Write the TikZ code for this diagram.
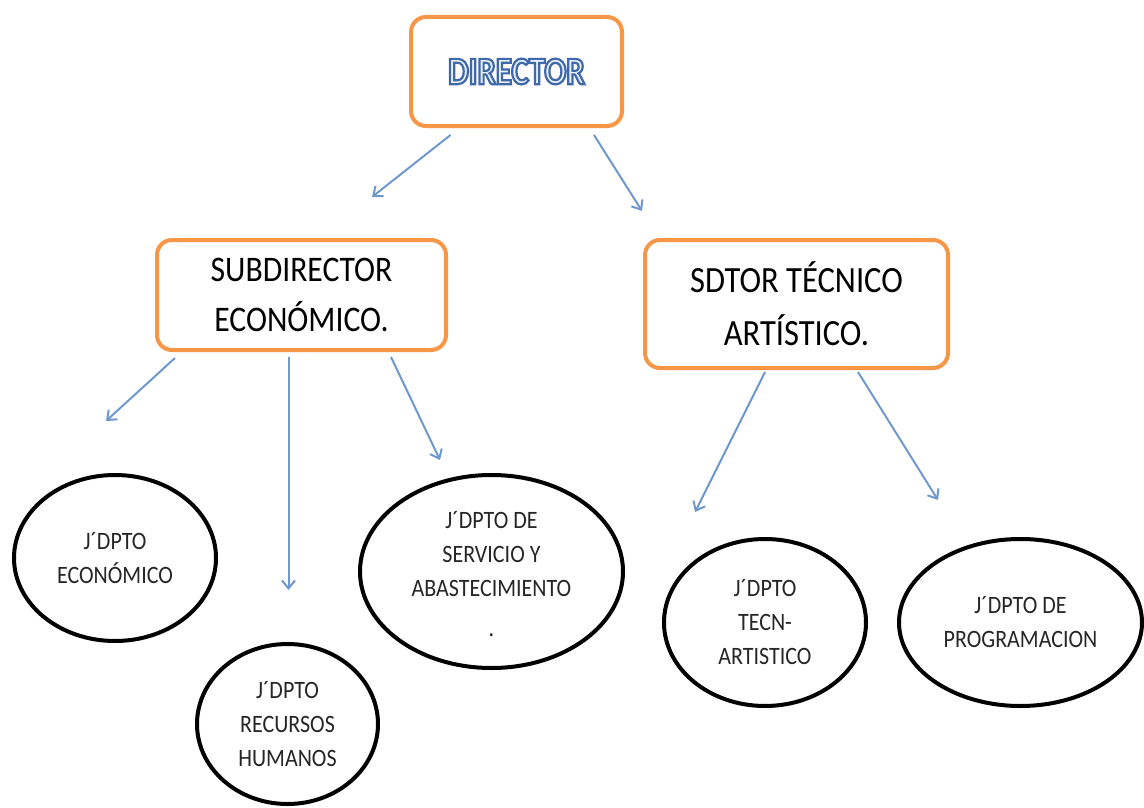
\documentclass[tikz,border=0pt]{standalone}
\usepackage{fontspec}
\setmainfont{Carlito}
\newfontfamily\boxfont[FakeStretch=0.88]{Carlito}
\newfontfamily\elfont[FakeStretch=0.88]{Carlito}
\newfontfamily\dirfont[FakeStretch=0.84]{Carlito Bold}
\usetikzlibrary{shapes.geometric,arrows.meta,calc}
\definecolor{orgline}{HTML}{F79646}
\definecolor{arrblue}{HTML}{6F98CF}
\definecolor{dblue}{HTML}{3F69AA}
\newcommand{\outlinetext}[1]{\textcolor{dblue}{\special{pdf:literal 2 Tr 2.2 w 0.91 0.94 0.98 rg}#1\special{pdf:literal 0 Tr}}}
\begin{document}
\begin{tikzpicture}[x=1pt,y=-1pt,
  orgbox/.style={draw=orgline,line width=4pt,rounded corners=15pt,fill=white,
    inner sep=0pt,align=center},
  dept/.style={draw=black,line width=4pt,ellipse,inner sep=0pt},
  conn/.style={draw=arrblue,line width=2pt,-{Straight Barb[length=8pt,width=13pt]}},
  eltext/.style={align=center,font=\elfont\fontsize{25}{34}\selectfont,text=black!85}
]
\useasboundingbox (0,0) rectangle (1144,808);
\fill[white] (0,0) rectangle (1144,808);

% boxes
\node[orgbox,minimum width=211pt,minimum height=109pt] (dir) at (516.5,71.5)
  {\dirfont\fontsize{39}{40}\selectfont\outlinetext{DIRECTOR}};
\node[orgbox,minimum width=289pt,minimum height=110pt,
  font=\boxfont\fontsize{36}{50}\selectfont] (sub) at (301.5,295)
  {SUBDIRECTOR\\ECONÓMICO.};
\node[orgbox,minimum width=303pt,minimum height=128pt,
  font=\boxfont\fontsize{37}{53}\selectfont] (sdt) at (796.5,304)
  {SDTOR TÉCNICO\\ARTÍSTICO.};

% departments
\node[dept,minimum width=202pt,minimum height=166pt] (eco) at (115,558) {};
\node[eltext] (ecot) at (eco.center) {J´DPTO\\ECONÓMICO};
\node[dept,minimum width=181pt,minimum height=160pt] (rrhh) at (287.5,724) {};
\node[eltext] (rrhht) at (rrhh.center) {J´DPTO\\RECURSOS\\HUMANOS};
\node[dept,minimum width=263pt,minimum height=193pt] (serv) at (491.5,571.5) {};
\node[eltext] (servt) at ($(serv.center)+(0,3)$) {J´DPTO DE\\SERVICIO Y\\ABASTECIMIENTO\\[6pt].};
\node[dept,minimum width=202pt,minimum height=167pt] (tec) at (765,622.5) {};
\node[eltext] (tect) at (tec.center) {J´DPTO\\TECN-\\ARTISTICO};
\node[dept,minimum width=243pt,minimum height=167pt] (prog) at (1020.5,622.5) {};
\node[eltext] (progt) at (prog.center) {J´DPTO DE\\PROGRAMACION};

% arrow end points
\coordinate (e1) at (372,197);
\coordinate (e2) at (642,211);
\coordinate (e3) at (106,421);
\coordinate (e4) at (288.5,590);
\coordinate (e5) at (440,460);
\coordinate (e6) at (695,512);
\coordinate (e7) at (938,500);

% connectors
\draw[conn] ($(dir.south)+(-66,7)$) -- (e1);
\draw[conn] ($(dir.south)+(77.5,7)$) -- (e2);
\draw[conn] ($(sub.south)+(-126.5,6)$) -- (e3);
\draw[conn] ($(sub.south)+(-13,5)$) -- (e4);
\draw[conn] ($(sub.south)+(89.5,5)$) -- (e5);
\draw[conn] ($(sdt.south)+(-31.5,2)$) -- (e6);
\draw[conn] ($(sdt.south)+(61.5,2)$) -- (e7);
\end{tikzpicture}
\end{document}
